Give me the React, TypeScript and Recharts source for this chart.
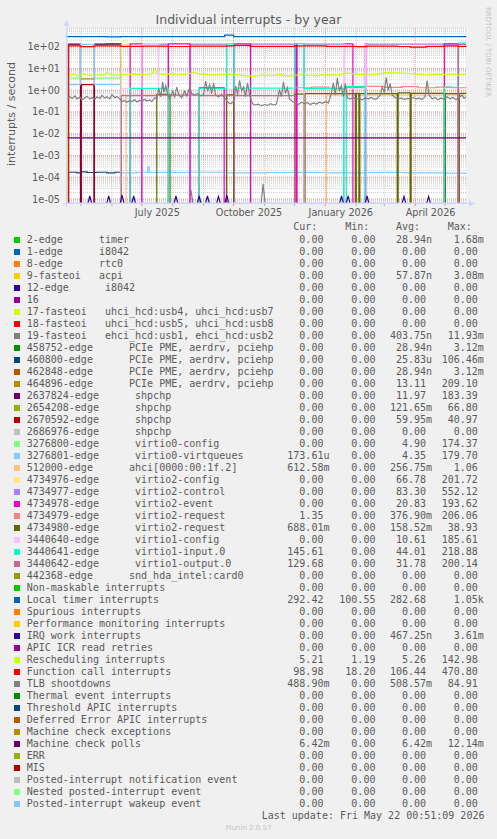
import React from 'react';
import { LineChart, Line, XAxis, YAxis, ReferenceLine, CartesianGrid } from 'recharts';

type Pt = [number, number];

// x = days since Thu 17 Apr 2025 (graph start); the graph covers 400 days up to 22 May 2026
const monthStarts = [14, 45, 75, 106, 137, 167, 198, 228, 259, 290, 318, 349, 379];
const quarterStarts = [75, 167, 259, 349];
const quarterLabels = ['July 2025', 'October 2025', 'January 2026', 'April 2026'];
const decadeTicks = [1e-5, 1e-4, 1e-3, 1e-2, 1e-1, 1, 10, 100];
const minorSteps = [2, 3, 4, 5, 6, 7, 8, 9];

// munin palette
const palette = [
  '#00cc00', '#0066b3', '#ff8000', '#ffcc00', '#330099', '#990099', '#ccff00', '#ff0000',
  '#808080', '#008f00', '#00487d', '#b35a00', '#b38f00', '#6b006b', '#8fb300', '#b30000',
  '#bebebe', '#80ff80', '#80c9ff', '#ffc080', '#ffe680', '#aa80ff', '#ee00cc', '#ff8080',
  '#666600', '#ffbfff', '#00ffcc', '#cc6699', '#999900',
];

const legendNames = [
  '2-edge      timer',
  '1-edge      i8042',
  '8-edge      rtc0',
  '9-fasteoi   acpi',
  '12-edge      i8042',
  '16',
  '17-fasteoi   uhci_hcd:usb4, uhci_hcd:usb7',
  '18-fasteoi   uhci_hcd:usb5, uhci_hcd:usb8',
  '19-fasteoi   ehci_hcd:usb1, ehci_hcd:usb2',
  '458752-edge      PCIe PME, aerdrv, pciehp',
  '460800-edge      PCIe PME, aerdrv, pciehp',
  '462848-edge      PCIe PME, aerdrv, pciehp',
  '464896-edge      PCIe PME, aerdrv, pciehp',
  '2637824-edge      shpchp',
  '2654208-edge      shpchp',
  '2670592-edge      shpchp',
  '2686976-edge      shpchp',
  '3276800-edge      virtio0-config',
  '3276801-edge      virtio0-virtqueues',
  '512000-edge      ahci[0000:00:1f.2]',
  '4734976-edge      virtio2-config',
  '4734977-edge      virtio2-control',
  '4734978-edge      virtio2-event',
  '4734979-edge      virtio2-request',
  '4734980-edge      virtio2-request',
  '3440640-edge      virtio1-config',
  '3440641-edge      virtio1-input.0',
  '3440642-edge      virtio1-output.0',
  '442368-edge      snd_hda_intel:card0',
  'Non-maskable interrupts',
  'Local timer interrupts',
  'Spurious interrupts',
  'Performance monitoring interrupts',
  'IRQ work interrupts',
  'APIC ICR read retries',
  'Rescheduling interrupts',
  'Function call interrupts',
  'TLB shootdowns',
  'Thermal event interrupts',
  'Threshold APIC interrupts',
  'Deferred Error APIC interrupts',
  'Machine check exceptions',
  'Machine check polls',
  'ERR',
  'MIS',
  'Posted-interrupt notification event',
  'Nested posted-interrupt event',
  'Posted-interrupt wakeup event',
];

const curVals = [
  '0.00', '0.00', '0.00', '0.00', '0.00', '0.00', '0.00', '0.00', '0.00', '0.00',
  '0.00', '0.00', '0.00', '0.00', '0.00', '0.00', '0.00', '0.00', '173.61u', '612.58m',
  '0.00', '0.00', '0.00', '1.35', '688.01m', '0.00', '145.61', '129.68', '0.00', '0.00',
  '292.42', '0.00', '0.00', '0.00', '0.00', '5.21', '98.98', '488.90m', '0.00', '0.00',
  '0.00', '0.00', '6.42m', '0.00', '0.00', '0.00', '0.00', '0.00',
];
const minVals = [
  '0.00', '0.00', '0.00', '0.00', '0.00', '0.00', '0.00', '0.00', '0.00', '0.00',
  '0.00', '0.00', '0.00', '0.00', '0.00', '0.00', '0.00', '0.00', '0.00', '0.00',
  '0.00', '0.00', '0.00', '0.00', '0.00', '0.00', '0.00', '0.00', '0.00', '0.00',
  '100.55', '0.00', '0.00', '0.00', '0.00', '1.19', '18.20', '0.00', '0.00', '0.00',
  '0.00', '0.00', '0.00', '0.00', '0.00', '0.00', '0.00', '0.00',
];
const avgVals = [
  '28.94n', '0.00', '0.00', '57.87n', '0.00', '0.00', '0.00', '0.00', '403.75n', '28.94n',
  '25.83u', '28.94n', '13.11', '11.97', '121.65m', '59.95m', '0.00', '4.90', '4.35', '256.75m',
  '66.78', '83.30', '20.83', '376.90m', '158.52m', '10.61', '44.01', '31.78', '0.00', '0.00',
  '282.68', '0.00', '0.00', '467.25n', '0.00', '5.26', '106.44', '508.57m', '0.00', '0.00',
  '0.00', '0.00', '6.42m', '0.00', '0.00', '0.00', '0.00', '0.00',
];
const maxVals = [
  '1.68m', '0.00', '0.00', '3.08m', '0.00', '0.00', '0.00', '0.00', '11.93m', '3.12m',
  '106.46m', '3.12m', '209.10', '183.39', '66.80', '40.97', '0.00', '174.37', '179.70', '1.06',
  '201.72', '552.12', '193.62', '206.06', '38.93', '185.61', '218.88', '200.14', '0.00', '0.00',
  '1.05k', '0.00', '0.00', '3.61m', '0.00', '142.98', '470.80', '84.91', '0.00', '0.00',
  '0.00', '0.00', '12.14m', '0.00', '0.00', '0.00', '0.00', '0.00',
];

// ---- series readings [day, interrupts/s]; 0 = no interrupts
const Z = 0;

const ehciDays = [124.3, 196.6];
const ehciPeaks = [2.6e-5, 5e-5];

const pcie460800: Pt[] = [[0, Z], [1.5, 1.7e-4], [10, 1.6e-4], [14, 1.75e-4], [20, 1.65e-4], [30, 1.7e-4], [40, 1.6e-4], [48, 1.7e-4], [54.5, Z], [400, Z]];
const pcie464896: Pt[] = [[0, Z], [1.5, 124], [13.5, 3.3], [27.5, 124], [40, 138], [54.5, Z], [400, Z]];
const shpchp2637824: Pt[] = [[0, Z], [1.5, 130], [13.5, Z], [27.5, 130], [54.5, Z], [400, Z]];
const shpchp2670592: Pt[] = [[0, Z], [14.5, 1.8], [27, Z], [400, Z]];
const virtio0Config: Pt[] = [[0, Z], [1.5, 3.6], [13.5, 125], [27.5, 3.6], [54.5, Z], [400, Z]];
const virtio0Virtq: Pt[] = [
  [0, Z], [1.5, 1.8], [13.5, 127], [27.5, 1.8], [54.5, 1.6e-4], [70, 1.7e-4], [80, 1.65e-4], [81, 2.9e-4],
  [82.5, 1.65e-4], [120, 1.7e-4], [160, 1.6e-4], [200, 1.65e-4], [260, 1.6e-4], [300, 1.65e-4],
  [340, 1.6e-4], [380, 1.55e-4], [400, 1.6e-4],
];
const ahci: Pt[] = [[0, Z], [54.5, 0.62], [59.3, Z], [63.3, 0.6], [123.3, Z], [132, 0.6], [184, Z], [260, 0.6], [400, 0.61]];
const virtio2Config: Pt[] = [
  [0, Z], [54.5, 127], [63.3, Z], [75, 127], [101.6, Z], [123.3, 127], [160, Z], [184, 127], [228.3, Z],
  [237.6, 127], [277.3, Z], [300, 127], [378.3, Z], [400, Z],
];
const virtio2Control: Pt[] = [
  [0, Z], [75, 131], [101.6, Z], [123.3, 131], [160, Z], [184, 131], [228.3, Z], [237.6, 131], [277.3, Z],
  [300, 131], [378.3, 136], [392.3, Z], [400, Z],
];
const virtio2Event: Pt[] = [
  [0, Z], [63.3, 134], [75, Z], [101.6, 134], [123.3, Z], [132.6, 1.28], [157.6, Z], [167.3, 134], [184, Z],
  [229.6, 134], [230.6, Z], [277.3, 134], [286.6, Z], [299, 134], [300, Z], [378.3, 134], [392.3, Z], [400, Z],
];
const virtio2ReqA: Pt[] = [
  [0, Z], [228.3, 1.3], [245, 1.4], [262, 1.25], [280, 1.35], [300, 1.5], [318, 1.35], [336, 1.45],
  [352, 1.3], [370, 1.4], [385, 1.3], [400, 1.35],
];
const virtio2ReqB: Pt[] = [
  [0, Z], [90, 0.64], [103.3, Z], [160, 0.62], [167.3, Z], [228.3, 0.66], [237.6, Z], [238.6, 0.7], [289, Z],
  [290, 0.72], [292.6, Z], [293.6, 0.7], [331, Z], [332, 0.75], [344, Z], [345, 0.72], [378.3, Z],
  [379.3, 0.7], [392.3, Z], [393.3, 0.72], [400, 0.69],
];
const virtio1Config: Pt[] = [
  [0, Z], [54.5, 1.22], [75, 128], [91.6, 1.22], [101.6, Z], [237.6, 1.15], [277.3, 128], [278.3, 1.15],
  [299, 128], [300, Z], [400, Z],
];
const virtio1Input: Pt[] = [
  [0, Z], [63.3, 1.22], [101.6, Z], [132.6, 1.2], [160, 136], [167.3, 1.25], [228.3, 137], [237.6, 1.2],
  [277.3, Z], [280, 1.5], [299, Z], [378.3, 1.35], [392.3, 146], [400, 146],
];
const virtio1Output: Pt[] = [[0, Z], [54.5, 0.56], [90, 0.6], [132, 0.56], [228.3, Z], [392.3, 128], [400, 128]];
const localTimer: Pt[] = [[0, 290], [40, 285], [54, 292], [100, 288], [158, 340], [167, 292], [230, 290], [300, 288], [400, 292]];

const irqWorkDays = [22.8, 41.8, 55.2, 66.8, 109.2, 132.5, 140.8, 151.8, 160.2, 275.2, 281.8, 300.8, 337.8, 362.5];
const irqWorkPeaks = [1.4e-5, 1.4e-5, 1.5e-5, 1.4e-5, 1.4e-5, 1.4e-5, 1.4e-5, 1.3e-5, 1.5e-5, 1.4e-5, 1.4e-5, 1.4e-5, 1.3e-5, 1.3e-5];

const rescheduling: Pt[] = [
  [0, Z], [1.5, 4.8], [6, 5.4], [12, 4.6], [16, 5.8], [20, 5.0], [26, 4.8], [32, 5.2], [36, 4.7], [40, 6.2],
  [44, 5.2], [50, 4.8], [54.5, 5.4], [60, 5.0], [66, 5.6], [72, 5.2], [80, 5.4], [86, 6.2], [88, 9.5],
  [90, 6.0], [96, 5.4], [104, 5.6], [112, 5.0], [120, 5.4], [128, 6.6], [132, 5.6], [140, 5.2], [150, 5.0],
  [160, 5.4], [170, 5.2], [180, 4.6], [188, 4.4], [196, 5.0], [206, 4.8], [214, 5.2], [222, 4.4], [228, 5.0],
  [240, 5.0], [250, 4.8], [262, 5.2], [272, 5.0], [280, 6.2], [286, 5.8], [292, 5.4], [300, 5.0], [306, 5.2],
  [314, 5.6], [320, 6.4], [330, 6.2], [340, 6.0], [348, 5.6], [356, 5.2], [364, 5.0], [372, 5.4], [380, 5.2],
  [386, 5.6], [392, 5.0], [398, 5.4], [400, 5.2],
];
const functionCall: Pt[] = [
  [0, Z], [1.5, 108], [13.5, 100], [27, 110], [54.5, 104], [75, 106], [101.6, 102], [123.3, 106], [160, 110],
  [167.3, 115], [184, 104], [228, 108], [260, 104], [290, 100], [300, 106], [331, 102], [344, 96], [360, 104],
  [378, 110], [392, 104], [400, 99],
];
const tlbShootdowns: Pt[] = [
  [0, 0.38], [3, 0.5], [5, 0.42], [8, 0.55], [10, 0.4], [13, 0.48], [15, 0.36], [18, 0.45], [20, 0.52],
  [23, 0.4], [25, 0.46], [28, 0.38], [30, 0.5], [33, 0.42], [35, 0.58], [38, 0.44], [40, 0.5], [43, 0.4],
  [45, 0.62], [48, 0.45], [50, 0.52], [53, 0.4], [55, 0.3], [58, 0.34], [60, 0.28], [63, 0.33], [65, 0.3],
  [68, 0.36], [70, 0.29], [73, 0.34], [75, 0.31], [78, 0.38], [80, 0.32], [83, 0.36], [85, 0.3], [88, 0.45],
  [90, 0.38], [92, 1.2], [94, 0.5], [96, 2.4], [97, 0.8], [99, 1.6], [101, 0.6], [103, 0.4], [106, 0.9],
  [108, 0.5], [110, 1.4], [112, 0.6], [115, 0.45], [118, 0.9], [120, 0.55], [123, 1.3], [125, 0.7], [128, 0.6],
  [131, 0.7], [134, 0.55], [137, 0.65], [139, 2.6], [141, 0.9], [143, 1.8], [145, 0.7], [147, 2.2], [149, 0.6],
  [152, 0.5], [155, 0.65], [158, 0.45], [161, 0.28], [164, 0.24], [167, 0.3], [169, 1.6], [171, 0.6],
  [173, 2.8], [175, 0.9], [177, 1.4], [179, 0.5], [181, 2.2], [183, 0.6], [186, 0.24], [189, 0.21],
  [192, 0.23], [195, 0.19], [198, 0.22], [201, 0.2], [204, 0.24], [207, 0.21], [210, 0.23], [213, 1.1],
  [215, 0.5], [217, 2.4], [219, 0.7], [221, 1.3], [223, 0.4], [226, 0.3], [229, 0.26], [232, 0.22],
  [235, 0.28], [238, 0.24], [241, 0.27], [244, 0.22], [247, 0.26], [250, 0.23], [253, 0.28], [256, 0.25],
  [259, 0.3], [262, 0.26], [265, 0.7], [267, 2.2], [269, 0.6], [271, 3.6], [273, 0.9], [275, 1.6], [277, 0.5],
  [279, 2.0], [281, 0.45], [284, 0.4], [287, 0.45], [290, 0.38], [293, 0.42], [296, 0.36], [299, 0.44],
  [302, 0.4], [305, 0.46], [308, 0.38], [311, 0.42], [314, 0.6], [316, 1.4], [318, 0.8], [320, 3.8],
  [322, 1.0], [324, 2.0], [326, 0.6], [329, 0.45], [332, 0.4], [335, 0.44], [338, 0.38], [341, 0.42],
  [344, 0.4], [347, 0.46], [350, 0.4], [353, 0.43], [356, 0.38], [359, 0.5], [361, 2.8], [363, 0.6],
  [366, 0.4], [369, 0.46], [372, 0.36], [375, 0.44], [378, 0.38], [381, 0.5], [384, 0.4], [387, 0.47],
  [390, 0.36], [393, 0.45], [396, 0.6], [398, 0.42], [400, 0.5],
];
const machineCheckPolls: Pt[] = [[0, 6.4e-3], [400, 6.4e-3]];

// ---- layout
const CHART_W = 497;
const CHART_H = 240;
const M_TOP = 28;
const M_RIGHT = 31;
const Y_W = 67;
const PLOT_BOTTOM = 203;
const PX_PER_DAY = (CHART_W - M_RIGHT - Y_W) / 400;
const FLOOR = 6e-6; // zero readings sit just below the bottom of the log axis
const Y_DOMAIN = [6.56e-6, 722];

const TEXT = '#5a5a5a';
const AXIS = '#CFD6F8';

function spikes(days: number[], peaks: number[]): Pt[] {
  const out: Pt[] = [[0, Z]];
  days.forEach((d, i) => out.push([d - 2, Z], [d, peaks[i]], [d + 2, Z]));
  out.push([400, Z]);
  return out;
}

const rows = (pts: Pt[]) => pts.map(([d, v]) => ({ d, v: v > 0 ? v : FLOOR }));

// draw order follows the legend order
const series: { id: number; pts: Pt[]; type: 'linear' | 'stepAfter' }[] = [
  { id: 8, pts: spikes(ehciDays, ehciPeaks), type: 'linear' },
  { id: 10, pts: pcie460800, type: 'stepAfter' },
  { id: 12, pts: pcie464896, type: 'stepAfter' },
  { id: 13, pts: shpchp2637824, type: 'stepAfter' },
  { id: 15, pts: shpchp2670592, type: 'stepAfter' },
  { id: 17, pts: virtio0Config, type: 'stepAfter' },
  { id: 18, pts: virtio0Virtq, type: 'stepAfter' },
  { id: 19, pts: ahci, type: 'stepAfter' },
  { id: 20, pts: virtio2Config, type: 'stepAfter' },
  { id: 21, pts: virtio2Control, type: 'stepAfter' },
  { id: 22, pts: virtio2Event, type: 'stepAfter' },
  { id: 23, pts: virtio2ReqA, type: 'stepAfter' },
  { id: 24, pts: virtio2ReqB, type: 'stepAfter' },
  { id: 25, pts: virtio1Config, type: 'stepAfter' },
  { id: 26, pts: virtio1Input, type: 'stepAfter' },
  { id: 27, pts: virtio1Output, type: 'stepAfter' },
  { id: 30, pts: localTimer, type: 'stepAfter' },
  { id: 33, pts: spikes(irqWorkDays, irqWorkPeaks), type: 'linear' },
  { id: 35, pts: rescheduling, type: 'linear' },
  { id: 36, pts: functionCall, type: 'stepAfter' },
  { id: 37, pts: tlbShootdowns, type: 'linear' },
  { id: 42, pts: machineCheckPolls, type: 'stepAfter' },
];

const fmtExp = (v: number) => {
  const e = Math.round(Math.log10(v));
  return `1e${e < 0 ? '-' : '+'}${String(Math.abs(e)).padStart(2, '0')}`;
};

const YTick = (props: any) => (
  <text x={60} y={props.y} textAnchor="end" dominantBaseline="central" fontSize={9.7}
    fontFamily="DejaVu Sans" fill={TEXT}>
    {fmtExp(props.payload.value)}
  </text>
);

const XTick = (props: any) => {
  const q = quarterStarts.indexOf(props.payload.value);
  return (
    <g>
      <line x1={props.x} x2={props.x} y1={PLOT_BOTTOM + 1} y2={PLOT_BOTTOM + 3}
        stroke={q >= 0 ? '#de4f4f' : '#8f8f8f'} strokeOpacity={0.7} />
      {q >= 0 && (
        <text x={props.x + 15.5 * PX_PER_DAY} y={212.5} textAnchor="middle" dominantBaseline="central"
          fontSize={9.7} fontFamily="DejaVu Sans" fill={TEXT}>
          {quarterLabels[q]}
        </text>
      )}
    </g>
  );
};

const minorY = decadeTicks.concat([1e-6])
  .flatMap((dec) => minorSteps.map((m) => dec * m))
  .filter((v) => v > Y_DOMAIN[0] && v < Y_DOMAIN[1]);

const pad = (s: string) => (/[a-z]$/i.test(s) ? s : s + ' ').padStart(7, ' ');
const COLS = [287.3, 339.3, 390, 441.7];
const mono: React.CSSProperties = {
  position: 'absolute',
  fontFamily: '"DejaVu Sans Mono", monospace',
  fontSize: 10,
  lineHeight: '12px',
  whiteSpace: 'pre',
  color: TEXT,
};

export default function App() {
  return (
    <div style={{ position: 'absolute', left: 0, top: 0, width: 497, height: 839, background: '#f0f0f0', overflow: 'hidden' }}>
      <div style={{ position: 'absolute', left: 0, top: 0 }}>
        <LineChart width={CHART_W} height={CHART_H} margin={{ top: M_TOP, right: M_RIGHT, bottom: 7, left: 0 }}>
          <CartesianGrid horizontal={false} vertical={false} fill="#ffffff" stroke="none" />
          {minorY.map((v) => (
            <ReferenceLine key={`hy${v}`} y={v} stroke="#8f8f8f" strokeOpacity={0.45} strokeDasharray="1 1" />
          ))}
          {decadeTicks.map((v) => (
            <ReferenceLine key={`my${v}`} y={v} stroke="#de4f4f" strokeOpacity={0.6} strokeDasharray="1 1" />
          ))}
          {monthStarts.filter((d) => !quarterStarts.includes(d)).map((d) => (
            <ReferenceLine key={`vx${d}`} x={d} stroke="#8f8f8f" strokeOpacity={0.45} strokeDasharray="1 1" />
          ))}
          {quarterStarts.map((d) => (
            <ReferenceLine key={`qx${d}`} x={d} stroke="#de4f4f" strokeOpacity={0.6} strokeDasharray="1 1" />
          ))}
          <XAxis dataKey="d" type="number" domain={[0, 400]} ticks={monthStarts} interval={0}
            tick={<XTick />} tickLine={false} axisLine={{ stroke: AXIS }} height={30} />
          <YAxis type="number" scale="log" domain={Y_DOMAIN} allowDataOverflow ticks={decadeTicks}
            interval={0} tick={<YTick />} tickLine={false} axisLine={{ stroke: AXIS }} width={Y_W} />
          {series.map((s) => (
            <Line key={s.id} data={rows(s.pts)} dataKey="v" type={s.type} stroke={palette[s.id % 29]}
              strokeWidth={1.2} dot={false} activeDot={false} isAnimationActive={false} />
          ))}
        </LineChart>
      </div>

      <svg width={497} height={839} style={{ position: 'absolute', left: 0, top: 0, pointerEvents: 'none' }}>
        <text x={248.5} y={19.5} textAnchor="middle" dominantBaseline="central" fontSize={12.5}
          fontFamily="DejaVu Sans" fill={TEXT}>Individual interrupts - by year</text>
        <text transform="translate(11,114) rotate(-90)" textAnchor="middle" dominantBaseline="central"
          fontSize={11} fontFamily="DejaVu Sans" fill={TEXT}>interrupts / second</text>
        <text transform="translate(488,52) rotate(90)" textAnchor="middle" dominantBaseline="central"
          fontSize={7} fontFamily="DejaVu Sans" fill="#c4c4c4">RRDTOOL / TOBI OETIKER</text>
        <line x1={63} x2={470} y1={PLOT_BOTTOM + 0.5} y2={PLOT_BOTTOM + 0.5} stroke={AXIS} />
        <polygon points={`469,${PLOT_BOTTOM - 2.5} 475,${PLOT_BOTTOM + 0.5} 469,${PLOT_BOTTOM + 3.5}`} fill={AXIS} />
        <line x1={66.5} x2={66.5} y1={207} y2={25} stroke={AXIS} />
        <polygon points="63.5,26 66.5,20 69.5,26" fill={AXIS} />
        <text x={248.5} y={828} textAnchor="middle" dominantBaseline="central" fontSize={7}
          fontFamily="DejaVu Sans" fill="#c4c4c4">Munin 2.0.57</text>
      </svg>

      {['Cur:', 'Min:', 'Avg:', 'Max:'].map((h, i) => (
        <div key={h} style={{ ...mono, left: COLS[i] + 6, top: 221 }}>{h}</div>
      ))}
      {legendNames.map((name, i) => (
        <React.Fragment key={i}>
          <div style={{ position: 'absolute', left: 14, top: 237 + 12 * i, width: 6, height: 6, background: palette[i % 29] }} />
          <div style={{ ...mono, left: 26.7, top: 234 + 12 * i }}>{name}</div>
          {[curVals, minVals, avgVals, maxVals].map((col, c) => (
            <div key={c} style={{ ...mono, left: COLS[c], top: 234 + 12 * i }}>{pad(col[i])}</div>
          ))}
        </React.Fragment>
      ))}
      <div style={{ ...mono, left: 261.7, top: 810 }}>Last update: Fri May 22 00:51:09 2026</div>
    </div>
  );
}
